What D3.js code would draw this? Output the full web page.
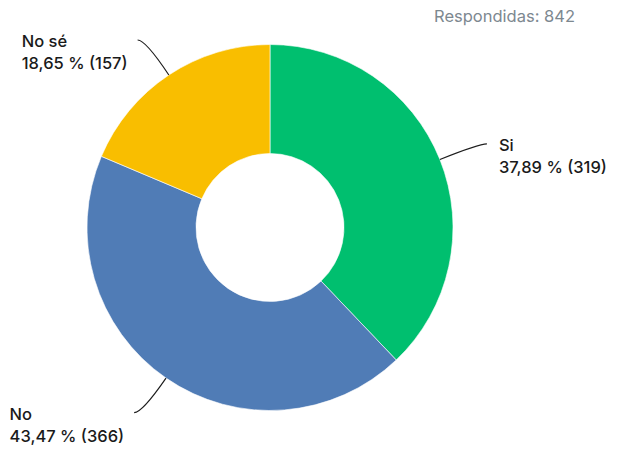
<!DOCTYPE html>
<html>
<head>
<meta charset="utf-8">
<script src="https://cdn.jsdelivr.net/npm/d3@7"></script>
<style>
  body { margin: 0; background: #fff; }
  text { font-family: Inter, "Noto Sans", sans-serif; }
</style>
</head>
<body>
<div id="chart"></div>
<script>
// Data
var categories = ["Si", "No", "No sé"];
var counts = [319, 366, 157];
var percents = [37.89, 43.47, 18.65];
var colors = ["#00bf6f", "#507cb6", "#f9be00"];
var totalLabel = "Respondidas: 842";

var width = 617, height = 450;
var cx = 270, cy = 227.5;
var outerR = 183, innerR = 74;

var svg = d3.select("#chart").append("svg")
    .attr("width", width)
    .attr("height", height);

var g = svg.append("g")
    .attr("transform", "translate(" + cx + "," + cy + ")");

var data = categories.map(function(c, i) {
    return {name: c, count: counts[i], pct: percents[i], color: colors[i]};
});

var pie = d3.pie().sort(null).value(function(d) { return d.count; });
var arc = d3.arc().innerRadius(innerR).outerRadius(outerR);

var arcs = pie(data);

g.selectAll("path.slice")
    .data(arcs)
    .enter().append("path")
    .attr("class", "slice")
    .attr("d", arc)
    .attr("fill", function(d) { return d.data.color; })
    .attr("stroke", "#fff")
    .attr("stroke-width", 0.6);

// leader lines: go out radially, then bend to horizontal
var L = 42, H = 8;
function leader(d) {
    var a = (d.startAngle + d.endAngle) / 2;
    var ux = Math.sin(a), uy = -Math.cos(a);
    var p0 = [ux * outerR, uy * outerR];
    var c = [p0[0] + ux * L, p0[1] + uy * L];
    var side = ux >= 0 ? 1 : -1;
    var p2 = [c[0] + side * H, c[1]];
    return {p0: p0, c: c, p2: p2, side: side};
}

var fmt = function(v) { return d3.format(".2f")(v).replace(".", ","); };

arcs.forEach(function(d) {
    var l = leader(d);
    g.append("path")
        .attr("d", "M" + l.p0 + "Q" + l.c + " " + l.p2)
        .attr("fill", "none")
        .attr("stroke", "#1d1d1d")
        .attr("stroke-width", 1.2);

    var label = g.append("text")
        .attr("font-size", "16.5px")
        .attr("font-weight", 500)
        .attr("fill", "#1a1a1a");
    label.append("tspan")
        .attr("x", 0).attr("y", 0)
        .text(d.data.name);
    label.append("tspan")
        .attr("x", 0).attr("y", 22)
        .text(fmt(d.data.pct) + " % (" + d.data.count + ")");

    var w = label.node().getBBox().width;
    var tx = l.side > 0 ? l.p2[0] + 12 : l.p2[0] - 10 - w;
    label.attr("transform", "translate(" + tx + "," + (l.p2[1] + 7) + ")");
});

svg.append("text")
    .attr("x", 575)
    .attr("y", 22)
    .attr("text-anchor", "end")
    .attr("font-size", "16.5px")
    .attr("fill", "#7d8890")
    .text(totalLabel);
</script>
</body>
</html>
